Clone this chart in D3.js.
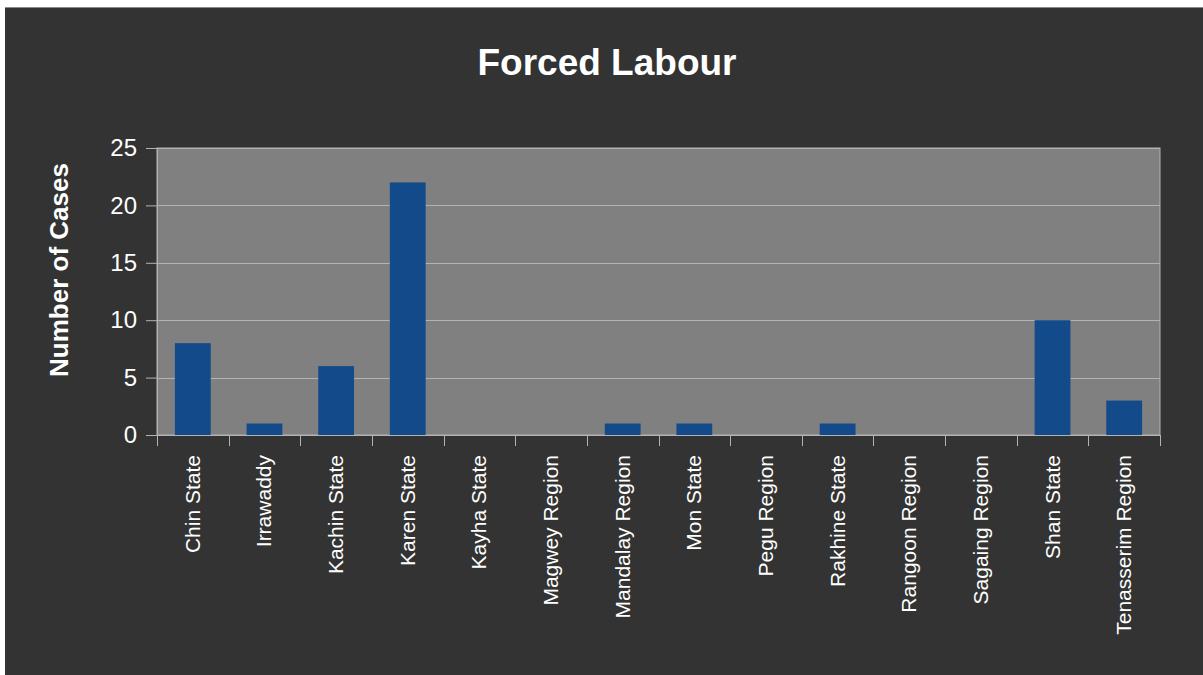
<!DOCTYPE html>
<html>
<head>
<meta charset="utf-8">
<script src="https://cdn.jsdelivr.net/npm/d3@7"></script>
<style>
  html, body { margin: 0; padding: 0; background: #fff; }
  svg { display: block; font-family: "Liberation Sans", Arial, sans-serif; }
</style>
</head>
<body>
<div id="chart"></div>
<script>
const regions = [
  "Chin State", "Irrawaddy", "Kachin State", "Karen State", "Kayha State",
  "Magwey Region", "Mandalay Region", "Mon State", "Pegu Region",
  "Rakhine State", "Rangoon Region", "Sagaing Region", "Shan State",
  "Tenasserim Region"
];
const cases = [8, 1, 6, 22, 0, 0, 1, 1, 0, 1, 0, 0, 10, 3];
const yTicks = [0, 5, 10, 15, 20, 25];

const w = 1203, h = 675;
const margin = { top: 148, right: 43, bottom: 240, left: 157 };

const svg = d3.select("#chart").append("svg")
    .attr("width", w)
    .attr("height", h);

// page background
svg.append("rect")
    .attr("x", 5).attr("y", 7)
    .attr("width", w - 5).attr("height", h - 7)
    .attr("fill", "#323332");
svg.append("line")
    .attr("x1", 5).attr("x2", w)
    .attr("y1", 7.5).attr("y2", 7.5)
    .attr("stroke", "#8a8a8a");

const x = d3.scaleBand()
    .domain(regions)
    .range([margin.left, w - margin.right])
    .paddingInner(0.5)
    .paddingOuter(0.25);

const y = d3.scaleLinear()
    .domain([0, 25])
    .range([h - margin.bottom, margin.top]);

// plot area
svg.append("rect")
    .attr("x", margin.left)
    .attr("y", margin.top)
    .attr("width", w - margin.left - margin.right)
    .attr("height", h - margin.top - margin.bottom)
    .attr("fill", "#808080")
    .attr("stroke", "#b3b3b3");

// gridlines
svg.append("g")
    .selectAll("line")
    .data(yTicks)
    .enter()
    .append("line")
    .attr("x1", margin.left)
    .attr("x2", w - margin.right)
    .attr("y1", d => Math.round(y(d)) + 0.5)
    .attr("y2", d => Math.round(y(d)) + 0.5)
    .attr("stroke", "#b3b3b3");

// bars
svg.append("g")
    .selectAll("rect")
    .data(regions)
    .enter()
    .append("rect")
    .attr("x", d => x(d))
    .attr("width", x.bandwidth())
    .attr("y", (d, i) => y(cases[i]))
    .attr("height", (d, i) => y(0) - y(cases[i]))
    .attr("fill", "#134a8a");

// y axis
const yAxis = svg.append("g")
    .attr("transform", `translate(${margin.left},0)`)
    .call(d3.axisLeft(y).tickValues(yTicks).tickSize(11).tickPadding(9));
yAxis.select(".domain").attr("stroke", "#b3b3b3");
yAxis.selectAll(".tick line").attr("stroke", "#b3b3b3");
yAxis.selectAll("text")
    .attr("fill", "#fff")
    .attr("font-size", 24)
    .attr("font-family", "Liberation Sans, Arial, sans-serif");

// x axis: ticks at band boundaries
const bounds = regions.map(r => x(r) - x.bandwidth() / 2).concat([w - margin.right]);
svg.append("g")
    .selectAll("line")
    .data(bounds)
    .enter()
    .append("line")
    .attr("x1", d => Math.round(d) + 0.5)
    .attr("x2", d => Math.round(d) + 0.5)
    .attr("y1", y(0))
    .attr("y2", y(0) + 11)
    .attr("stroke", "#b3b3b3");

svg.append("g")
    .selectAll("text")
    .data(regions)
    .enter()
    .append("text")
    .attr("transform", d => `translate(${x(d) + x.bandwidth() / 2 + 7},${y(0) + 20}) rotate(-90)`)
    .attr("text-anchor", "end")
    .attr("fill", "#fff")
    .attr("font-size", 21)
    .text(d => d);

// title
svg.append("text")
    .attr("x", 607)
    .attr("y", 75)
    .attr("text-anchor", "middle")
    .attr("fill", "#fff")
    .attr("font-size", 37)
    .attr("font-weight", "bold")
    .text("Forced Labour");

// y label
svg.append("text")
    .attr("transform", "translate(68,270) rotate(-90)")
    .attr("text-anchor", "middle")
    .attr("fill", "#fff")
    .attr("font-size", 26)
    .attr("font-weight", "bold")
    .text("Number of Cases");
</script>
</body>
</html>
